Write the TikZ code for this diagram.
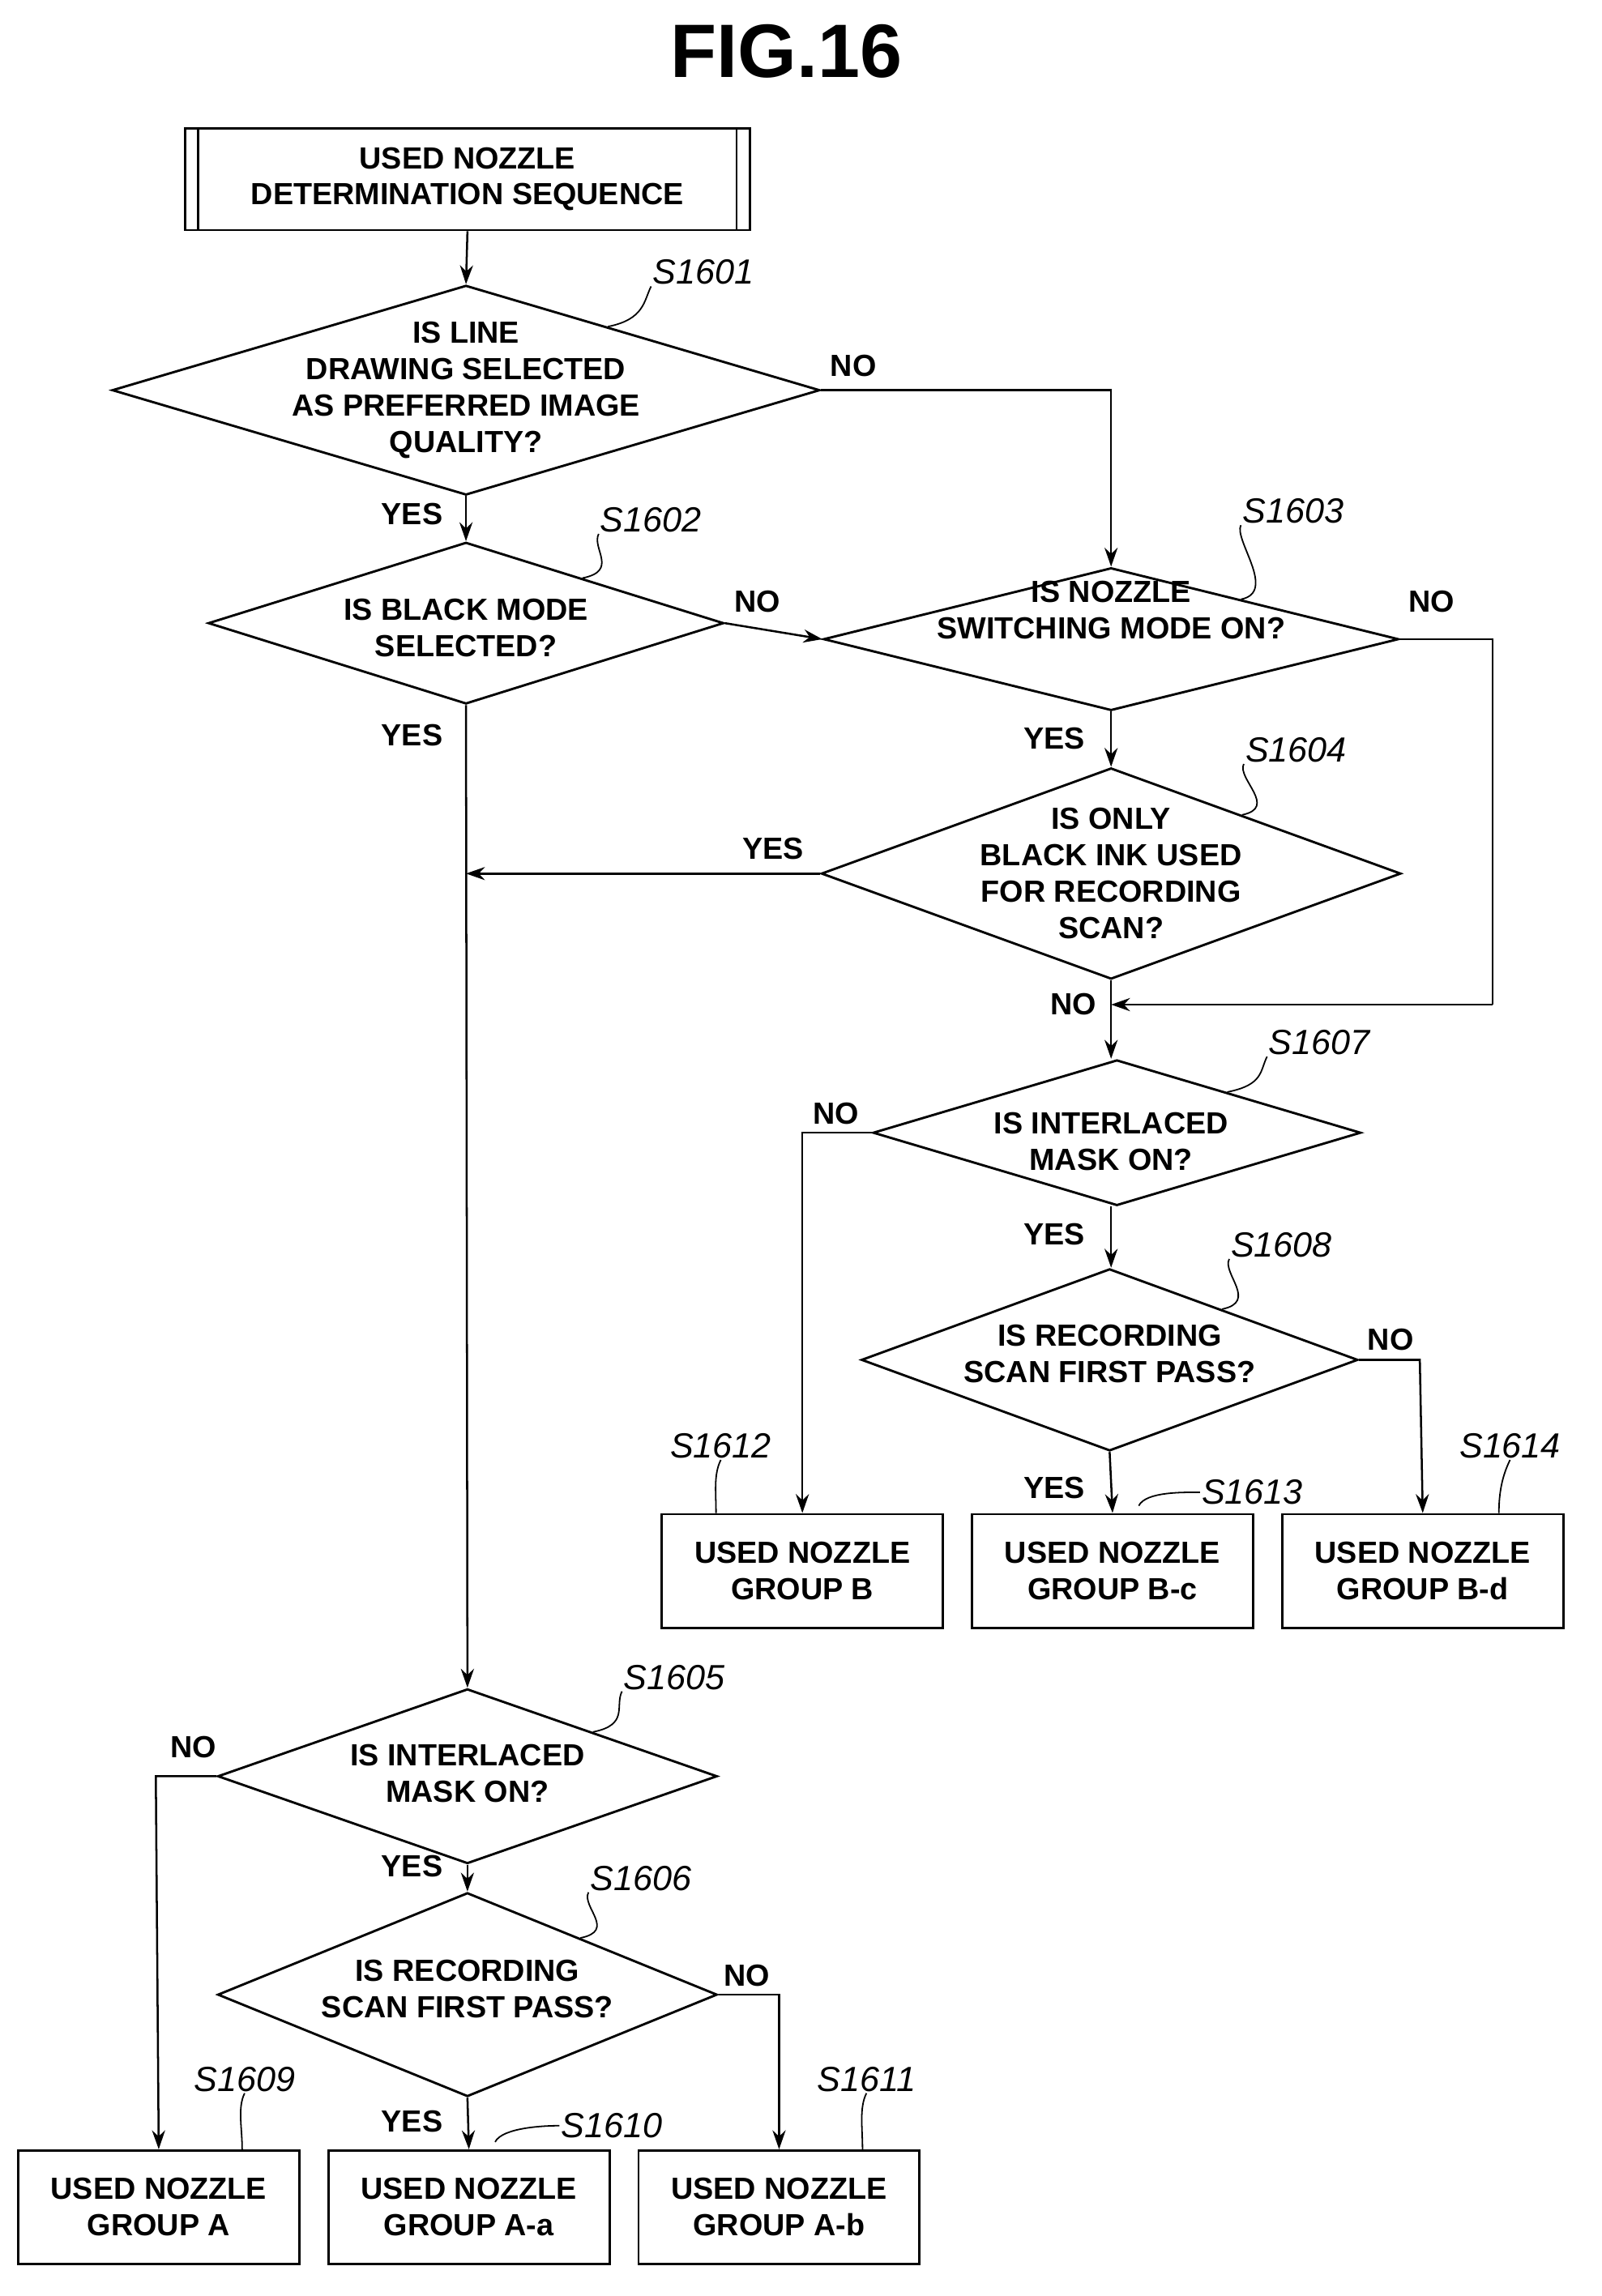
\documentclass[tikz,border=0pt]{standalone}
\usepackage{fontspec}
\setmainfont{Liberation Sans}
\usetikzlibrary{shapes.geometric,calc,arrows.meta}
\begin{document}
\begin{tikzpicture}[x=1pt,y=-1pt,
  dia/.style={draw,line width=1.6pt,diamond,inner sep=0pt},
  box/.style={draw,line width=1.6pt,rectangle,inner sep=0pt,minimum width=193pt,minimum height=78pt},
  txt/.style={align=center,font=\bfseries\fontsize{21}{25}\selectfont,inner sep=0pt},
  lab/.style={font=\itshape\fontsize{24}{26}\selectfont,inner sep=1pt},
  yn/.style={font=\bfseries\fontsize{21}{24}\selectfont,inner sep=0pt},
  ln/.style={line width=1.4pt},
  ar/.style={line width=1.4pt,-{Stealth[length=13pt,width=9pt]}},
  lead/.style={line width=1pt}]
\useasboundingbox (0,0) rectangle (1100,1577);
\node[font=\bfseries\fontsize{52}{56}\selectfont] (title) at (540,35) {FIG.16};
% start
\node[box,minimum width=388pt,minimum height=70pt] (st) at (321,123) {};
\draw[line width=1.6pt] ($(st.north west)+(10,0)$) -- ($(st.south west)+(10,0)$);
\draw[line width=1.6pt] ($(st.north east)+(-10,0)$) -- ($(st.south east)+(-10,0)$);
\node[txt] (stt) at (321,123) {USED NOZZLE\\DETERMINATION SEQUENCE};
% diamonds
\node[dia,minimum width=486pt,minimum height=144pt] (d1) at (320,268) {};
\node[txt] at (320,268) {IS LINE\\DRAWING SELECTED\\AS PREFERRED IMAGE\\QUALITY?};
\node[dia,minimum width=354pt,minimum height=111pt] (d2) at (320,428) {};
\node[txt] at (320,431) {IS BLACK MODE\\SELECTED?};
\node[dia,minimum width=395pt,minimum height=98pt] (d3) at (763,439) {};
\node[txt] at (763,419) {IS NOZZLE\\SWITCHING MODE ON?};
\node[dia,minimum width=398pt,minimum height=145pt] (d4) at (763,600) {};
\node[txt] at (763,600) {IS ONLY\\BLACK INK USED\\FOR RECORDING\\SCAN?};
\node[dia,minimum width=335pt,minimum height=100pt] (d5) at (767,778) {};
\node[txt] at (763,784) {IS INTERLACED\\MASK ON?};
\node[dia,minimum width=341pt,minimum height=125pt] (d7) at (762,934) {};
\node[txt] at (762,930) {IS RECORDING\\SCAN FIRST PASS?};
\node[dia,minimum width=343pt,minimum height=120pt] (d6) at (321,1220) {};
\node[txt] at (321,1218) {IS INTERLACED\\MASK ON?};
\node[dia,minimum width=343pt,minimum height=140pt] (d8) at (321,1370) {};
\node[txt] at (321,1366) {IS RECORDING\\SCAN FIRST PASS?};
% boxes
\node[box] (bB) at (551,1079) {}; \node[txt] at (551,1079) {USED NOZZLE\\GROUP B};
\node[box] (bBc) at (764,1079) {}; \node[txt] at (764,1079) {USED NOZZLE\\GROUP B-c};
\node[box] (bBd) at (977,1079) {}; \node[txt] at (977,1079) {USED NOZZLE\\GROUP B-d};
\node[box] (bA) at (109,1516) {}; \node[txt] at (109,1516) {USED NOZZLE\\GROUP A};
\node[box] (bAa) at (322,1516) {}; \node[txt] at (322,1516) {USED NOZZLE\\GROUP A-a};
\node[box] (bAb) at (535,1516) {}; \node[txt] at (535,1516) {USED NOZZLE\\GROUP A-b};
% coordinates
\coordinate (c1) at (763,268);
\coordinate (c3a) at (1025,439);
\coordinate (c3b) at (1025,690);
\coordinate (m3) at (763,690);
\coordinate (j4) at (320,600);
\coordinate (c5) at (551,778);
\coordinate (c7) at (975,934);
\coordinate (c6) at (107,1220);
\coordinate (c8) at (535,1370);
% connectors
\draw[ar] (st.south) -- (d1.north);
\draw[ar] (d1.east) -- (c1) -- (d3.north);
\draw[ar] (d1.south) -- (d2.north);
\draw[ar] (d2.east) -- (d3.west);
\draw[ar] (d3.south) -- (d4.north);
\draw[ln] (d3.east) -- (c3a) -- (c3b);
\draw[ar] (c3b) -- (m3);
\draw[ar] (d4.west) -- (j4);
\draw[ar] (d4.south) -- (m3 |- d5.north);
\draw[ar] (d2.south) -- (d6.north);
\draw[ar] (d5.west) -- (c5) -- (bB.north);
\draw[ar] (d5.south -| m3) -- (m3 |- d7.north);
\draw[ar] (d7.east) -- (c7) -- (bBd.north);
\draw[ar] (d7.south) -- (bBc.north);
\draw[ar] (d6.west) -- (c6) -- (bA.north);
\draw[ar] (d6.south) -- (d8.north);
\draw[ar] (d8.east) -- (c8) -- (bAb.north);
\draw[ar] (d8.south) -- (bAa.north);
% yes/no
\node[yn] at (586,251) {NO};
\node[yn] at (283,353) {YES};
\node[yn] at (520,413) {NO};
\node[yn] at (983,413) {NO};
\node[yn] at (283,505) {YES};
\node[yn] at (724,507) {YES};
\node[yn] at (531,583) {YES};
\node[yn] at (737,690) {NO};
\node[yn] at (574,765) {NO};
\node[yn] at (724,848) {YES};
\node[yn] at (955,920) {NO};
\node[yn] at (724,1022) {YES};
\node[yn] at (133,1200) {NO};
\node[yn] at (283,1282) {YES};
\node[yn] at (513,1357) {NO};
\node[yn] at (283,1457) {YES};
% step labels
\node[lab] (l1) at (483,187) {S1601};
\draw[lead] ($(d1.north)!0.4!(d1.east)$) .. controls +(25,-5) and +(-5,10) .. (l1.south west);
\node[lab] (l2) at (447,357) {S1602};
\draw[lead] ($(d2.north)!0.45!(d2.east)$) .. controls +(25,-5) and +(-5,10) .. (l2.south west);
\node[lab] (l3) at (888,351) {S1603};
\draw[lead] ($(d3.north)!0.45!(d3.east)$) .. controls +(25,-5) and +(-5,10) .. (l3.south west);
\node[lab] (l4) at (890,515) {S1604};
\draw[lead] ($(d4.north)!0.45!(d4.east)$) .. controls +(25,-5) and +(-5,10) .. (l4.south west);
\node[lab] (l5) at (906,716) {S1607};
\draw[lead] ($(d5.north)!0.45!(d5.east)$) .. controls +(25,-5) and +(-5,10) .. (l5.south west);
\node[lab] (l7) at (880,855) {S1608};
\draw[lead] ($(d7.north)!0.45!(d7.east)$) .. controls +(25,-5) and +(-5,10) .. (l7.south west);
\node[lab] (l6) at (463,1152) {S1605};
\draw[lead] ($(d6.north)!0.5!(d6.east)$) .. controls +(25,-5) and +(-5,10) .. (l6.south west);
\node[lab] (l8) at (440,1290) {S1606};
\draw[lead] ($(d8.north)!0.45!(d8.east)$) .. controls +(25,-5) and +(-5,10) .. (l8.south west);
\node[lab] (l12) at (495,993) {S1612};
\draw[lead] ($(bB.north west)+(38,0)$) .. controls +(0,-15) and +(-5,10) .. (l12.south);
\node[lab] (l13) at (860,1025) {S1613};
\draw[lead] ($(bBc.north)+(18,-5)$) .. controls +(5,-10) and +(-10,0) .. (l13.west);
\node[lab] (l14) at (1037,993) {S1614};
\draw[lead] ($(bBd.north east)+(-45,0)$) .. controls +(0,-15) and +(-5,10) .. (l14.south);
\node[lab] (l9) at (168,1428) {S1609};
\draw[lead] ($(bA.north east)+(-40,0)$) .. controls +(0,-15) and +(-5,10) .. (l9.south);
\node[lab] (l10) at (420,1460) {S1610};
\draw[lead] ($(bAa.north)+(18,-5)$) .. controls +(5,-10) and +(-10,0) .. (l10.west);
\node[lab] (l11) at (595,1428) {S1611};
\draw[lead] ($(bAb.north east)+(-40,0)$) .. controls +(0,-15) and +(-5,10) .. (l11.south);
\end{tikzpicture}
\end{document}
